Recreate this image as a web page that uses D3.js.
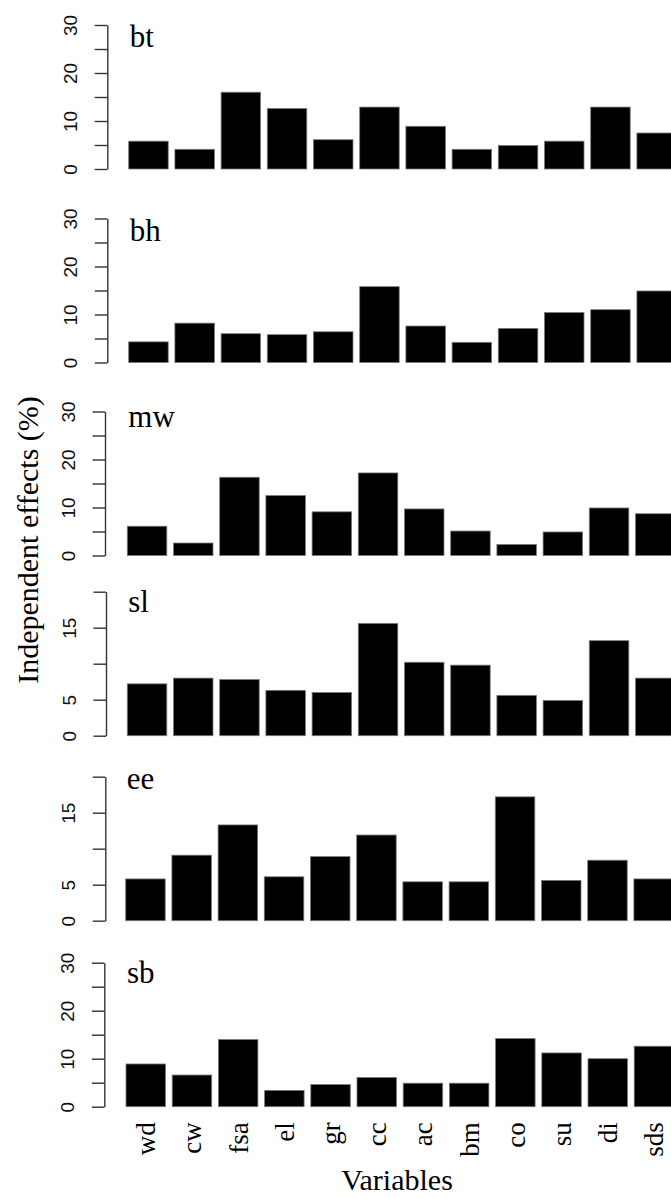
<!DOCTYPE html>
<html>
<head>
<meta charset="utf-8">
<script src="https://cdn.jsdelivr.net/npm/d3@7"></script>
<style>
  body { margin: 0; background: #fff; }
</style>
</head>
<body>
<div id="chart"></div>
<script>
// Independent effects (%) per variable, one array per response
const variables = ["wd", "cw", "fsa", "el", "gr", "cc", "ac", "bm", "co", "su", "di", "sds"];
const panelNames = ["bt", "bh", "mw", "sl", "ee", "sb"];

const bt = [5.8, 4.1, 16.0, 12.6, 6.1, 12.9, 8.9, 4.1, 4.9, 5.8, 12.9, 7.5];
const bh = [4.3, 8.2, 6.0, 5.8, 6.4, 15.8, 7.6, 4.2, 7.1, 10.4, 11.0, 14.9];
const mw = [6.1, 2.6, 16.3, 12.5, 9.1, 17.2, 9.7, 5.1, 2.3, 4.9, 9.9, 8.7];
const sl = [7.2, 8.0, 7.8, 6.3, 6.0, 15.6, 10.2, 9.8, 5.6, 4.9, 13.2, 8.0];
const ee = [5.8, 9.1, 13.3, 6.1, 8.9, 11.9, 5.4, 5.4, 17.2, 5.6, 8.4, 5.8];
const sb = [8.9, 6.6, 14.0, 3.4, 4.6, 6.1, 4.9, 4.9, 14.2, 11.2, 10.0, 12.6];
const seriesValues = [bt, bh, mw, sl, ee, sb];

// y axis domains and ticks
const yMax = [30, 30, 30, 20, 20, 30];
const ticks30 = [0, 5, 10, 15, 20, 25, 30];
const tickLabels30 = [0, 10, 20, 30];
const ticks20 = [0, 5, 10, 15, 20];
const tickLabels20 = [0, 5, 15];

// layout of the stacked panels (pixels)
const width = 671, height = 1198;
const panelHeight = 144;
const baseY = [169, 362.5, 555.5, 735.7, 920.7, 1106.7];
const axisX = [107.3, 107.3, 105, 106, 105.3, 104.3];
const firstBarX = [128.7, 128.7, 127.3, 127.3, 125.7, 126];
const nameY = [47.3, 241, 426.7, 612.3, 789, 982.7];
const barStep = 46.2;
const barPad = 0.145;

const svg = d3.select("#chart")
  .append("svg")
  .attr("width", width)
  .attr("height", height)
  .style("display", "block")
  .style("background", "#fff");

panelNames.forEach((name, i) => {
  const values = seriesValues[i];
  const data = variables.map((v, j) => ({ variable: v, value: values[j] }));

  const x = d3.scaleBand()
    .domain(variables)
    .range([firstBarX[i], firstBarX[i] + barStep * (variables.length - barPad)])
    .paddingInner(barPad)
    .paddingOuter(0);

  const y = d3.scaleLinear()
    .domain([0, yMax[i]])
    .range([baseY[i], baseY[i] - panelHeight]);

  const g = svg.append("g").attr("class", "panel-" + name);

  // bars
  g.selectAll("rect")
    .data(data)
    .join("rect")
    .attr("x", d => x(d.variable))
    .attr("y", d => y(d.value))
    .attr("width", x.bandwidth())
    .attr("height", d => y(0) - y(d.value))
    .attr("fill", "#000")
    .attr("stroke", "#7a7a7a")
    .attr("stroke-width", 0.8);

  // y axis
  const tickVals = yMax[i] === 30 ? ticks30 : ticks20;
  const labelVals = yMax[i] === 30 ? tickLabels30 : tickLabels20;

  const axis = g.append("g")
    .attr("transform", `translate(${axisX[i]},0)`)
    .call(d3.axisLeft(y)
      .tickValues(tickVals)
      .tickSize(12.5)
      .tickSizeOuter(0)
      .tickFormat(d => labelVals.includes(d) ? d : ""));

  axis.select(".domain").attr("stroke", "#333").attr("stroke-width", 1.4);
  axis.selectAll(".tick line").attr("stroke", "#333").attr("stroke-width", 1.4);
  axis.selectAll(".tick text")
    .attr("x", null)
    .attr("dy", null)
    .attr("transform", "translate(-30,0) rotate(-90)")
    .attr("text-anchor", "middle")
    .attr("font-family", "'Liberation Sans', Arial, sans-serif")
    .attr("font-size", 19)
    .attr("fill", "#111");

  // panel name
  g.append("text")
    .attr("x", firstBarX[i] + 1)
    .attr("y", nameY[i])
    .attr("font-family", "'Liberation Serif', 'Times New Roman', serif")
    .attr("font-size", 31)
    .attr("fill", "#000")
    .text(name);

  // category labels under the last panel only
  if (i === panelNames.length - 1) {
    g.selectAll("text.cat")
      .data(variables)
      .join("text")
      .attr("class", "cat")
      .attr("transform", d => `translate(${x(d) + x.bandwidth() / 2 + 9.5},${baseY[i] + 15.5}) rotate(-90)`)
      .attr("text-anchor", "end")
      .attr("font-family", "'Liberation Serif', 'Times New Roman', serif")
      .attr("font-size", 27)
      .attr("fill", "#000")
      .text(d => d);
  }
});

// axis titles
svg.append("text")
  .attr("transform", "translate(38,540) rotate(-90)")
  .attr("text-anchor", "middle")
  .attr("font-family", "'Liberation Serif', 'Times New Roman', serif")
  .attr("font-size", 30)
  .attr("fill", "#000")
  .text("Independent effects (%)");

svg.append("text")
  .attr("x", 397)
  .attr("y", 1190)
  .attr("text-anchor", "middle")
  .attr("font-family", "'Liberation Serif', 'Times New Roman', serif")
  .attr("font-size", 30)
  .attr("fill", "#000")
  .text("Variables");
</script>
</body>
</html>
